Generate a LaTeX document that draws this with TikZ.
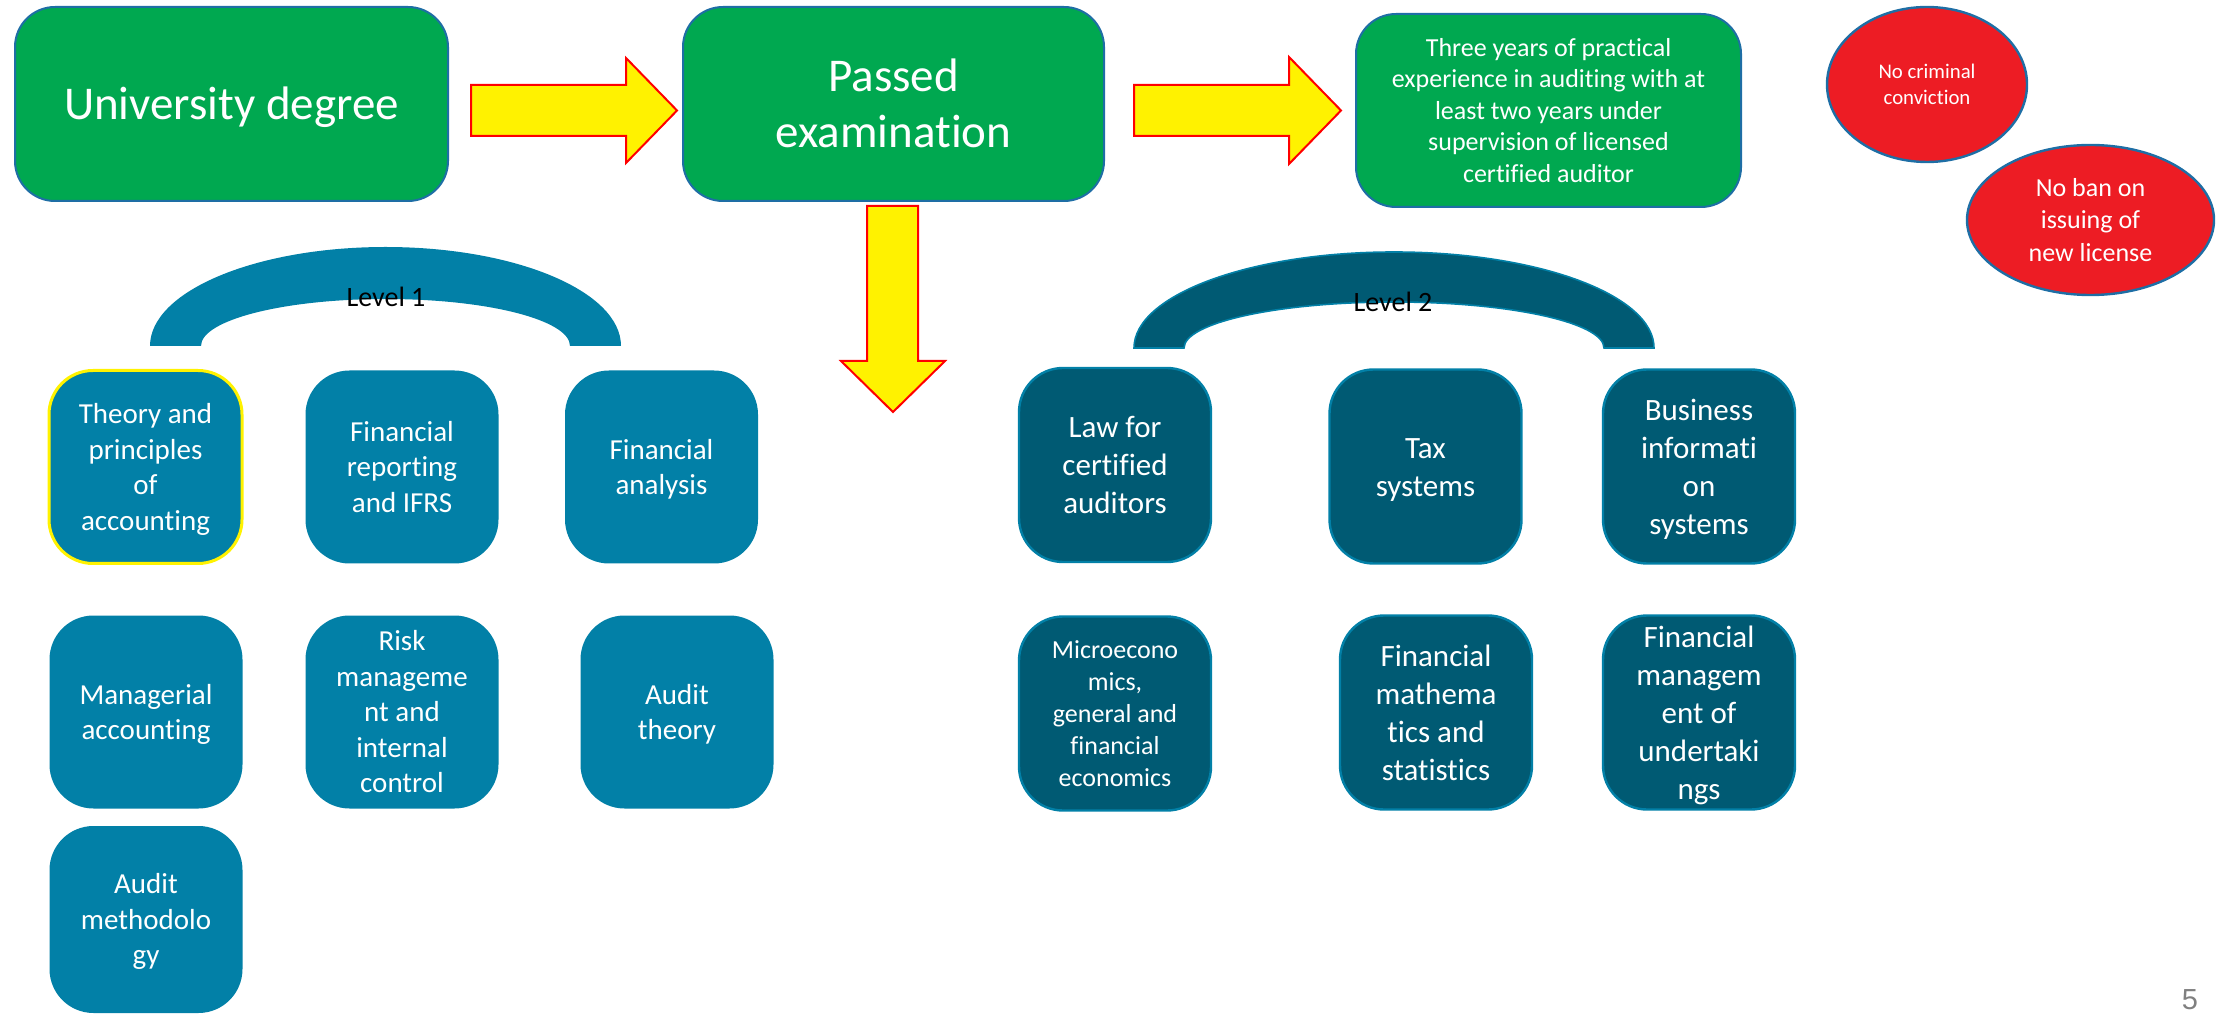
\documentclass[tikz,border=0pt]{standalone}
\usepackage{fontspec}
\setmainfont{Carlito}[Ligatures=NoCommon]
\newfontfamily\numfont{Liberation Sans}
\usetikzlibrary{shapes.geometric}
\definecolor{bgreen}{RGB}{0,168,80}
\definecolor{bordblue}{RGB}{30,110,165}
\definecolor{lblue}{RGB}{2,128,167}
\definecolor{dblue}{RGB}{0,90,115}
\definecolor{cred}{RGB}{237,28,36}
\definecolor{pgray}{RGB}{128,128,128}
\newcommand\pptop{\rule{0pt}{0.95em}}
\newcommand\ppbot{\rule[-0.27em]{0pt}{0.27em}}
\begin{document}
\begin{tikzpicture}[x=0.5pt,y=-0.5pt,
  ppfont/.style 2 args={font=\fontsize{#1}{#2}\selectfont},
  greenbox/.style={draw=bordblue, line width=1pt, fill=bgreen, rounded corners=20pt,
    text=white, align=center, inner sep=0pt},
  lvone/.style={fill=lblue, rounded corners=22pt, text=white, align=center, inner sep=0pt,
    ppfont={14.5}{17.75}, minimum width=96.5pt, minimum height=96.5pt},
  lvtwo/.style={fill=dblue, draw=lblue, line width=1.2pt, rounded corners=22pt, text=white,
    align=center, inner sep=0pt, ppfont={15.5}{19},
    minimum width=96pt, minimum height=97pt},
  redcirc/.style={ellipse, fill=cred, draw=bordblue, line width=1.2pt, text=white,
    align=center, inner sep=0pt},
  yarrow/.style={fill=yellow, draw=red, line width=1pt, line join=miter},
  archone/.style={fill=lblue},
  archtwo/.style={fill=dblue, draw=lblue, line width=0.8pt},
  lvlabel/.style={font=\fontsize{14}{17}\selectfont, text=black, inner sep=0pt}
]
\useasboundingbox (0,0) rectangle (2221,1015);

% top row
\node[greenbox, minimum width=216.5pt, minimum height=97pt,
  ppfont={23.5}{28}] (uni) at (231.5,104) {\pptop University degree\ppbot};
\node[greenbox, minimum width=210.5pt, minimum height=97pt,
  ppfont={23.5}{28}] (passed) at (893.5,104) {\pptop Passed\\examination\ppbot};
\node[greenbox, minimum width=192.5pt, minimum height=96.5pt,
  ppfont={13}{15.8}] (three) at (1548.5,110.5)
  {\pptop Three years of practical\\experience in auditing with at\\least two years under\\supervision of licensed\\certified auditor\ppbot};

% red circles
\node[redcirc, minimum width=100pt, minimum height=77.5pt,
  ppfont={10.4}{13.3}] (crim) at (1927,84.5) {\pptop No criminal\\conviction\ppbot};
\node[redcirc, minimum width=123.5pt, minimum height=75pt,
  ppfont={13}{16.2}] (ban) at (2090.5,220) {\pptop No ban on\\issuing of\\new license\ppbot};

% block arrows
\draw[yarrow] (471,85) -- (626,85) -- (626,58) -- (677,110.5) -- (626,163) -- (626,136) -- (471,136) -- cycle;
\draw[yarrow] (1134,85) -- (1289,85) -- (1289,57) -- (1341,110.5) -- (1289,164) -- (1289,136) -- (1134,136) -- cycle;
\draw[yarrow] (867,206) -- (918,206) -- (918,361) -- (945,361) -- (893,412) -- (841,361) -- (867,361) -- cycle;

% arches
\path[archone] (150,346) arc[start angle=180, end angle=0, x radius=117.75pt, y radius=49.5pt]
  -- (570,346) arc[start angle=0, end angle=180, x radius=92.25pt, y radius=23.5pt] -- cycle;
\path[archtwo] (1134,348) arc[start angle=180, end angle=0, x radius=130pt, y radius=48pt]
  -- (1604,348) arc[start angle=0, end angle=180, x radius=105pt, y radius=23pt] -- cycle;
\node[lvlabel] (l1) at (386,297) {Level 1};
\node[lvlabel] (l2) at (1393,302) {Level 2};

% level 1 boxes
\node[lvone, draw=yellow, line width=1.5pt] (theory) at (145.5,467) {\pptop Theory and\\principles\\of\\accounting\ppbot};
\node[lvone] (finrep) at (402,467) {\pptop Financial\\reporting\\and IFRS\ppbot};
\node[lvone] (finan) at (661.5,467) {\pptop Financial\\analysis\ppbot};
\node[lvone] (manag) at (146,712) {\pptop Managerial\\accounting\ppbot};
\node[lvone] (risk) at (402,712) {\pptop Risk\\manageme\\nt and\\internal\\control\ppbot};
\node[lvone] (audth) at (677,712) {\pptop Audit\\theory\ppbot};
\node[lvone, minimum height=93.5pt] (audmeth) at (146,919.5) {\pptop Audit\\methodolo\\gy\ppbot};

% level 2 boxes
\node[lvtwo] (law) at (1115,465) {\pptop Law for\\certified\\auditors\ppbot};
\node[lvtwo] (tax) at (1425.5,466.5) {\pptop Tax\\systems\ppbot};
\node[lvtwo] (bis) at (1699,466.5) {\pptop Business\\informati\\on\\systems\ppbot};
\node[lvtwo, ppfont={13}{16}] (micro) at (1115,713.5) {\pptop Microecono\\mics,\\general and\\financial\\economics\ppbot};
\node[lvtwo] (finmath) at (1436,712.5) {\pptop Financial\\mathema\\tics and\\statistics\ppbot};
\node[lvtwo] (finmgmt) at (1699,712.5) {\pptop Financial\\managem\\ent of\\undertaki\\ngs\ppbot};

% page number
\node[text=pgray, font=\numfont\fontsize{14.5}{17}\selectfont, inner sep=0pt] (pnum) at (2190,1000) {5};
\end{tikzpicture}
\end{document}
